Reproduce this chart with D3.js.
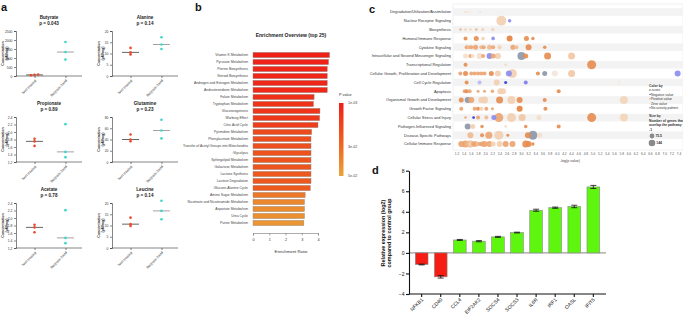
<!DOCTYPE html>
<html>
<head>
<meta charset="utf-8">
<script src="https://cdn.jsdelivr.net/npm/d3@7"></script>
<style>
  body { margin: 0; background: #fff; font-family: "Liberation Sans", Arial, sans-serif; }
  svg text { font-family: "Liberation Sans", Arial, sans-serif; }
</style>
</head>
<body>
<div id="fig"></div>
<script>
// ==== Panel a data ====
const groups = ["Non treated", "Butyrate 2mM"];
const metabolites = ["Butyrate", "Alanine", "Propionate", "Glutamine", "Acetate", "Leucine"];
const pLabels = ["p = 0.043", "p = 0.14", "p = 0.89", "p = 0.23", "p = 0.78", "p = 0.14"];
const yMins = [0, 0, 1.2, 0, 1.2, 0];
const yMaxs = [2500, 20, 2.4, 80, 2.4, 20];
const ySteps = [500, 5, 0.2, 20, 0.2, 5];
const ctrlVals = [[40, 60, 80], [12.5, 10.5, 9.6], [1.82, 1.75, 1.63], [49, 40, 37], [1.82, 1.75, 1.62], [13.5, 10.6, 9.8]];
const butVals = [[1890, 1330, 910], [17.2, 14, 12], [2.21, 1.47, 1.33], [75, 56, 42], [2.21, 1.47, 1.33], [21, 16.5, 12.8]];

// ==== Panel b data ====
const pathways = ["Vitamin K Metabolism", "Pyruvate Metabolism", "Pterine Biosynthesis", "Steroid Biosynthesis",
  "Androgen and Estrogen Metabolism", "Androstenedione Metabolism", "Folate Metabolism", "Tryptophan Metabolism",
  "Gluconeogenesis", "Warburg Effect", "Citric Acid Cycle", "Pyrimidine Metabolism", "Phenylacetate Metabolism",
  "Transfer of Acetyl Groups into Mitochondria", "Glycolysis", "Sphingolipid Metabolism", "Galactose Metabolism",
  "Lactose Synthesis", "Lactose Degradation", "Glucose-Alanine Cycle", "Amino Sugar Metabolism",
  "Nicotinate and Nicotinamide Metabolism", "Aspartate Metabolism", "Urea Cycle", "Purine Metabolism"];
const ratios = [4.71, 4.65, 4.57, 4.57, 4.57, 4.57, 3.76, 3.72, 4.12, 4.10, 4.0, 3.61, 3.57, 3.57, 3.57,
  3.57, 3.57, 3.57, 3.57, 3.53, 3.21, 3.17, 3.17, 3.17, 3.13];
const pvals = [0.002, 0.003, 0.004, 0.004, 0.004, 0.005, 0.008, 0.009, 0.010, 0.011, 0.013, 0.018, 0.019,
  0.020, 0.021, 0.022, 0.022, 0.023, 0.023, 0.024, 0.035, 0.040, 0.042, 0.043, 0.045];
const pTicks = [0.001, 0.03, 0.05];
const pTickLabels = ["1e-03", "3e-02", "5e-02"];

// ==== Panel c data: [ -log(p), genes, z-score (null = no activity pattern) ] ====
const cRows = ["Degradation/Utilization/Assimilation", "Nuclear Receptor Signaling", "Biosynthesis",
  "Humoral Immune Response", "Cytokine Signaling", "Intracellular and Second Messenger Signaling",
  "Transcriptional Regulation", "Cellular Growth, Proliferation and Development", "Cell Cycle Regulation",
  "Apoptosis", "Organismal Growth and Development", "Growth Factor Signaling", "Cellular Stress and Injury",
  "Pathogen-Influenced Signaling", "Disease-Specific Pathways", "Cellular Immune Response"];
const cBubbles = [
  [[1.42, 13, 0.3], [1.47, 13, 0.3], [1.55, 13, 0.3], [1.85, 13, 0.3]],
  [[2.44, 330, 1], [2.67, 40, -1.5]],
  [[1.30, 25, 1.5], [1.44, 20, 1], [1.58, 20, 0.8], [1.74, 25, 1.5], [1.92, 30, 1], [2.2, 40, 0.8]],
  [[1.44, 53, 2.5], [1.74, 83, 2.5], [1.93, 40, 1], [2.21, 45, -1.5], [2.67, 119, 2.8], [3.14, 83, 2.5], [3.32, 40, 2.5]],
  [[1.47, 53, 2], [1.54, 53, 1.5], [1.60, 53, 2], [1.72, 83, 2], [1.88, 53, 1.5], [1.945, 53, 2], [2.11, 83, 1.5],
   [2.21, 53, 2], [2.39, 53, 1], [2.76, 83, 2], [2.86, 53, 1.5], [3.20, 119, 2.5], [3.65, 40, 2.5]],
  [[1.44, 83, 0.5], [1.575, 53, 2], [1.64, 53, 0.5], [1.83, 119, 0.5], [1.93, 53, 2], [2.11, 119, -1.5], [2.21, 83, 2],
   [2.345, 119, 1], [3.0, 212, null], [3.12, 83, 2.5], [3.73, 162, 2.5], [4.40, 162, 1.2]],
  [[1.44, 53, 2.5], [2.56, 30, 0.5], [4.96, 268, 2.5]],
  [[1.295, 53, 2], [1.44, 83, 2.5], [1.60, 53, 2], [1.695, 53, 2], [1.79, 53, 2], [1.88, 53, 2], [1.97, 53, 2],
   [2.16, 83, 2.5], [2.345, 119, 1], [2.65, 119, -1.5], [2.75, 268, 1], [3.46, 53, 2.5], [3.65, 83, null],
   [3.93, 119, 0.2], [4.40, 162, 1.2], [7.36, 119, -1.5]],
  [[1.47, 53, 2.5], [1.83, 53, -0.8], [2.31, 119, 1], [2.56, 30, -3], [3.12, 53, -1.8], [5.72, 53, 0]],
  [[1.415, 53, 2], [1.47, 53, 2.5], [1.555, 53, 2], [1.79, 30, 2], [1.97, 30, 2], [2.19, 40, 2], [2.41, 119, 1],
   [2.485, 119, 1], [4.04, 53, 2.5]],
  [[1.32, 83, 2.5], [1.50, 119, null], [1.60, 119, 2], [1.88, 119, 1], [1.97, 162, 1], [2.39, 162, 2.5],
   [2.72, 212, 1], [2.95, 119, 2.5], [3.65, 53, 2.5], [5.86, 212, 0.8]],
  [[1.32, 53, 2], [1.695, 53, 2], [1.79, 53, 2.5], [1.88, 53, 1], [2.02, 53, 2], [2.19, 30, 2], [2.95, 119, 2.8], [3.67, 53, 2.5]],
  [[1.44, 20, 2], [1.665, 25, -3], [1.79, 53, 2], [2.02, 53, 1.5], [2.23, 83, -1.5], [2.37, 268, 2], [2.72, 268, 1],
   [3.02, 162, 1.2], [3.49, 83, 0.5], [4.96, 268, 2.5], [5.72, 30, 0], [5.86, 212, 0.8]],
  [[1.50, 119, null], [1.64, 83, 1], [1.90, 40, 2.5], [2.56, 25, 0.5], [3.12, 40, 2.5], [4.04, 53, 2.5]],
  [[1.575, 119, 1.5], [1.90, 53, 2.5], [2.09, 162, 2], [2.37, 268, 1], [2.62, 30, 2.5], [3.18, 119, 2.5],
   [3.32, 268, null], [3.51, 83, 0.5]],
  [[1.32, 119, 2], [1.44, 162, 2], [1.53, 119, 1.5], [1.575, 162, 2], [1.60, 119, 1], [1.665, 83, 2], [1.72, 119, 1.5],
   [1.83, 53, 2], [1.90, 83, 2], [1.97, 119, 2], [2.11, 119, 2], [2.21, 83, 1], [2.39, 119, 1], [2.56, 119, 2],
   [2.75, 119, 2], [3.12, 162, 2.5], [3.2, 119, 2.5], [3.32, 40, 2.5]]
];
const cSizeLegend = [75.5, 144];

// ==== Panel d data ====
const genes = ["NFKB1", "CD40", "CCL4", "EIF2AK2", "SOCS4", "SOCS3", "IL6R", "IRF1", "OASL", "IFIT5"];
const expr = [-1.13, -2.33, 1.26, 1.14, 1.56, 1.98, 4.15, 4.4, 4.52, 6.42];
const exprErr = [0.04, 0.12, 0.05, 0.06, 0.05, 0.04, 0.1, 0.06, 0.12, 0.15];
const dTicks = [-4, -2, 0, 2, 4, 6, 8];

const W = 683, H = 321;
const svg = d3.select("#fig").append("svg").attr("width", W).attr("height", H);

// panel letters
[["a", 1, 11], ["b", 195, 11], ["c", 369, 13], ["d", 372, 174]].forEach(([t, x, y]) => {
  svg.append("text").attr("x", x).attr("y", y).text(t)
    .style("font-size", "11px").style("font-weight", "bold").attr("fill", "#111");
});

function styleAxis(g, fs, col) {
  g.selectAll("path, line").attr("stroke", col || "#333").attr("stroke-width", 0.6);
  g.selectAll("text").style("font-size", fs + "px").attr("fill", "#333");
}

// ==== Panel a ====
const aCols = [16, 112], aTops = [31, 117, 203], aH = 45, aW = 66;
metabolites.forEach((m, i) => {
  const ax = aCols[i % 2], top = aTops[Math.floor(i / 2)], bot = top + aH;
  const g = svg.append("g");
  const y = d3.scaleLinear().domain([yMins[i], yMaxs[i]]).range([bot, top]);
  const x = d3.scalePoint().domain(groups).range([ax, ax + 68]).padding(0.6);
  const fmt = ySteps[i] < 1 ? d3.format(".1f") : d3.format("d");

  const yAx = g.append("g").attr("transform", `translate(${ax},0)`)
    .call(d3.axisLeft(y).tickValues(d3.range(yMins[i], yMaxs[i] + ySteps[i] / 2, ySteps[i]))
      .tickSize(2).tickPadding(1.5).tickFormat(fmt));
  styleAxis(yAx, 3.4);
  const xAx = g.append("g").attr("transform", `translate(0,${bot})`)
    .call(d3.axisBottom(x).tickSize(2).tickFormat(""));
  xAx.select(".domain").attr("d", `M${ax},0H${ax + aW}`);
  styleAxis(xAx, 3.4);

  groups.forEach(gr => {
    g.append("text")
      .attr("transform", `translate(${x(gr) + 2},${bot + 5}) rotate(-45)`)
      .attr("text-anchor", "end").style("font-size", "3.6px").attr("fill", "#333").text(gr);
  });

  g.append("text").attr("x", ax + 33).attr("y", top - 12).attr("text-anchor", "middle")
    .style("font-size", "4.6px").style("font-weight", "bold").attr("fill", "#222").text(m);
  g.append("text").attr("x", ax + 33).attr("y", top - 6).attr("text-anchor", "middle")
    .style("font-size", "4.6px").style("font-weight", "bold").attr("fill", "#222").text(pLabels[i]);

  const lab = g.append("text").attr("transform", `translate(${ax - 10},${(top + bot) / 2}) rotate(-90)`)
    .attr("text-anchor", "middle").style("font-size", "3.6px").style("font-weight", "bold").attr("fill", "#333");
  lab.append("tspan").attr("x", 0).attr("dy", -2.2).text("Concentration");
  lab.append("tspan").attr("x", 0).attr("dy", 4.2).text("(µM/mg)");

  [[ctrlVals[i], groups[0], "#e8492c", "#555"], [butVals[i], groups[1], "#3fd6c9", "#999"]].forEach(([vals, gr, col, lineCol]) => {
    const med = d3.median(vals);
    g.append("line").attr("x1", x(gr) - 8.5).attr("x2", x(gr) + 8.5)
      .attr("y1", y(med)).attr("y2", y(med)).attr("stroke", lineCol).attr("stroke-width", 0.9);
    // dodge points that overlap vertically
    const ys = vals.map(v => y(v));
    const close = d3.max(ys) - d3.min(ys) < 3;
    g.selectAll(null).data(vals).enter().append("circle")
      .attr("cx", (d, k) => x(gr) + (close ? (k - 1) * 3.6 : 0))
      .attr("cy", d => y(d)).attr("r", 1.3).attr("fill", col);
  });
});

// ==== Panel b ====
(function () {
  const g = svg.append("g");
  const yb = d3.scaleBand().domain(pathways).range([51.5, 226.5]).paddingInner(0.25).paddingOuter(0.125);
  const xb = d3.scaleLinear().domain([0, 4]).range([253, 318]);
  const colP = d3.scaleLinear().domain([0.001, 0.03, 0.05]).range(["#ef1e17", "#ee6a20", "#eaa33a"]);

  g.append("text").attr("x", 291).attr("y", 37).attr("text-anchor", "middle")
    .style("font-size", "5px").style("font-weight", "bold").attr("fill", "#222").text("Enrichment Overview (top 25)");

  g.selectAll(".bbar").data(pathways).enter().append("rect").attr("class", "bbar")
    .attr("x", xb(0)).attr("y", d => yb(d)).attr("height", yb.bandwidth())
    .attr("width", (d, i) => xb(ratios[i]) - xb(0))
    .attr("fill", (d, i) => colP(pvals[i])).attr("stroke", "#888").attr("stroke-width", 0.4);

  g.selectAll(".blab").data(pathways).enter().append("text").attr("class", "blab")
    .attr("x", 248).attr("y", d => yb(d) + yb.bandwidth() / 2 + 1.2).attr("text-anchor", "end")
    .style("font-size", "3.4px").attr("fill", "#444").text(d => d);

  const xa = g.append("g").attr("transform", "translate(0,233)")
    .call(d3.axisBottom(xb).ticks(4).tickSize(2.5).tickPadding(3));
  styleAxis(xa, 3.8, "#777");
  g.append("text").attr("x", 291).attr("y", 253).attr("text-anchor", "middle")
    .style("font-size", "4.3px").attr("fill", "#333").text("Enrichment Ratio");

  // colour bar
  const defs = svg.append("defs");
  const grad = defs.append("linearGradient").attr("id", "pgrad").attr("x1", 0).attr("x2", 0).attr("y1", 0).attr("y2", 1);
  d3.range(0, 1.01, 0.1).forEach(t => {
    const p = 0.001 + t * 0.049;
    grad.append("stop").attr("offset", t).attr("stop-color", colP(p));
  });
  const yc = d3.scaleLinear().domain([0.001, 0.05]).range([103, 176]);
  g.append("rect").attr("x", 339).attr("y", 103).attr("width", 4.5).attr("height", 73).attr("fill", "url(#pgrad)");
  g.append("text").attr("x", 339).attr("y", 96).style("font-size", "3.8px").attr("fill", "#333").text("P value");
  pTicks.forEach((p, k) => {
    g.append("text").attr("x", 348).attr("y", yc(p) + 1.3).style("font-size", "3.6px").attr("fill", "#444").text(pTickLabels[k]);
  });
})();

// ==== Panel c ====
(function () {
  const g = svg.append("g");
  const xc = d3.scaleLinear().domain([1.09, 7.51]).range([453, 683]);
  const yc = d3.scaleBand().domain(cRows).range([7.6, 148.4]);
  const rc = d3.scaleSqrt().domain([0, 144]).range([0, 3.3]);
  const posCol = d3.scaleLinear().domain([0, 1, 3]).range(["#f5ece4", "#f3cfb0", "#e2762e"]).clamp(true);
  const negCol = d3.scaleLinear().domain([0, -1, -3]).range(["#eeeefa", "#a9a9f4", "#3232e8"]).clamp(true);
  const fill = z => z === null ? "#8a97a8" : (z >= 0 ? posCol(z) : negCol(z));

  g.append("rect").attr("x", 453).attr("y", 4).attr("width", 230).attr("height", 146)
    .attr("fill", "none").attr("stroke", "#e6e6e6").attr("stroke-width", 0.6);
  g.selectAll(".stripe").data(cRows.filter((d, i) => i % 2 === 0)).enter().append("rect")
    .attr("x", 453).attr("width", 230).attr("y", d => yc(d) + 0.6).attr("height", yc.bandwidth() - 1.2)
    .attr("fill", "#f3f3f3");

  g.selectAll(".clab").data(cRows).enter().append("text")
    .attr("x", 451).attr("y", d => yc(d) + yc.bandwidth() / 2 + 1.3).attr("text-anchor", "end")
    .style("font-size", "3.9px").attr("fill", "#333").text(d => d);

  cRows.forEach((row, i) => {
    const cy = yc(row) + yc.bandwidth() / 2;
    const pts = cBubbles[i].slice().sort((a, b) => b[1] - a[1]);
    g.selectAll(null).data(pts).enter().append("circle")
      .attr("cx", d => xc(d[0])).attr("cy", cy).attr("r", d => rc(d[1]))
      .attr("fill", d => fill(d[2])).attr("fill-opacity", 0.9);
  });

  g.selectAll(".ctick").data(d3.range(1.2, 7.41, 0.2)).enter().append("text")
    .attr("x", d => xc(d)).attr("y", 155).attr("text-anchor", "middle")
    .style("font-size", "3.2px").attr("fill", "#555").text(d => d3.format(".1f")(d));
  g.append("text").attr("x", 570).attr("y", 162).attr("text-anchor", "middle")
    .style("font-size", "3.6px").attr("fill", "#444").text("-log(p value)");

  // legend
  const lx = 649;
  const lt = (y, t, b) => g.append("text").attr("x", lx).attr("y", y).style("font-size", "3.4px")
    .style("font-weight", b ? "bold" : "normal").attr("fill", "#333").text(t);
  lt(86.5, "Color by", true);
  lt(91, "z-score", false);
  [["Negative value", -2, 95.5], ["Positive value", 2, 100], ["Zero value", 0, 104.5], ["No activity pattern", null, 109]].forEach(([t, z, y]) => {
    g.append("rect").attr("x", lx).attr("y", y - 1.6).attr("width", 2).attr("height", 0.9).attr("fill", z === 0 ? "#ece6e0" : fill(z));
    g.append("text").attr("x", lx + 2).attr("y", y).style("font-size", "3.4px").attr("fill", "#333").text(t);
  });
  lt(117, "Size by", true);
  lt(121.5, "Number of genes that", true);
  lt(126, "overlap the pathway", true);
  lt(130.5, "-1", true);
  [[cSizeLegend[0], 136], [cSizeLegend[1], 143]].forEach(([v, y]) => {
    g.append("circle").attr("cx", lx + 3).attr("cy", y).attr("r", rc(v)).attr("fill", "#8a8a8a");
    g.append("text").attr("x", lx + 3 + rc(v) + 1).attr("y", y + 1.2).style("font-size", "3.4px")
      .style("font-weight", "bold").attr("fill", "#333").text(v);
  });
})();

// ==== Panel d ====
(function () {
  const g = svg.append("g");
  const xd = d3.scaleBand().domain(genes).range([409, 606]).paddingInner(0.333).paddingOuter(0.33);
  const yd = d3.scaleLinear().domain([-4, 8]).range([294, 170.7]);

  g.append("line").attr("x1", 409).attr("x2", 606).attr("y1", yd(0)).attr("y2", yd(0))
    .attr("stroke", "#777").attr("stroke-width", 0.9);

  g.selectAll(".dbar").data(genes).enter().append("rect").attr("class", "dbar")
    .attr("x", d => xd(d)).attr("width", xd.bandwidth())
    .attr("y", (d, i) => yd(Math.max(0, expr[i])))
    .attr("height", (d, i) => Math.abs(yd(expr[i]) - yd(0)))
    .attr("fill", (d, i) => expr[i] < 0 ? "#f51d14" : "#5ef50f")
    .attr("stroke", "#8a8a8a").attr("stroke-width", 0.6);

  genes.forEach((gn, i) => {
    const cx = xd(gn) + xd.bandwidth() / 2;
    const y1 = yd(expr[i] - exprErr[i]), y2 = yd(expr[i] + exprErr[i]);
    g.append("line").attr("x1", cx).attr("x2", cx).attr("y1", y1).attr("y2", y2).attr("stroke", "#111").attr("stroke-width", 0.8);
    [y1, y2].forEach(yy => g.append("line").attr("x1", cx - 3).attr("x2", cx + 3).attr("y1", yy).attr("y2", yy)
      .attr("stroke", "#111").attr("stroke-width", 0.8));
  });

  const ya = g.append("g").attr("transform", "translate(409,0)")
    .call(d3.axisLeft(yd).tickValues(dTicks).tickSize(3).tickPadding(1.5).tickSizeOuter(0));
  ya.selectAll("path, line").attr("stroke", "#111").attr("stroke-width", 1.1);
  ya.selectAll("text").style("font-size", "5px").attr("fill", "#111");

  const xa = g.append("g").attr("transform", "translate(0,294)")
    .call(d3.axisBottom(xd).tickSize(3).tickFormat("").tickSizeOuter(0));
  xa.select(".domain").attr("d", "M409,0H606");
  xa.selectAll("path, line").attr("stroke", "#111").attr("stroke-width", 1.1);

  genes.forEach(gn => {
    g.append("text").attr("transform", `translate(${xd(gn) + xd.bandwidth() / 2 + 2},${300}) rotate(-45)`)
      .attr("text-anchor", "end").style("font-size", "5px").attr("fill", "#111").text(gn);
  });

  const lab = g.append("text").attr("transform", "translate(386,233) rotate(-90)")
    .attr("text-anchor", "middle").style("font-size", "5.4px").style("font-weight", "bold").attr("fill", "#111");
  lab.append("tspan").attr("x", 0).attr("dy", -1).text("Relative expression (log2)");
  lab.append("tspan").attr("x", 0).attr("dy", 6).text("compared to control group");
})();
</script>
</body>
</html>
